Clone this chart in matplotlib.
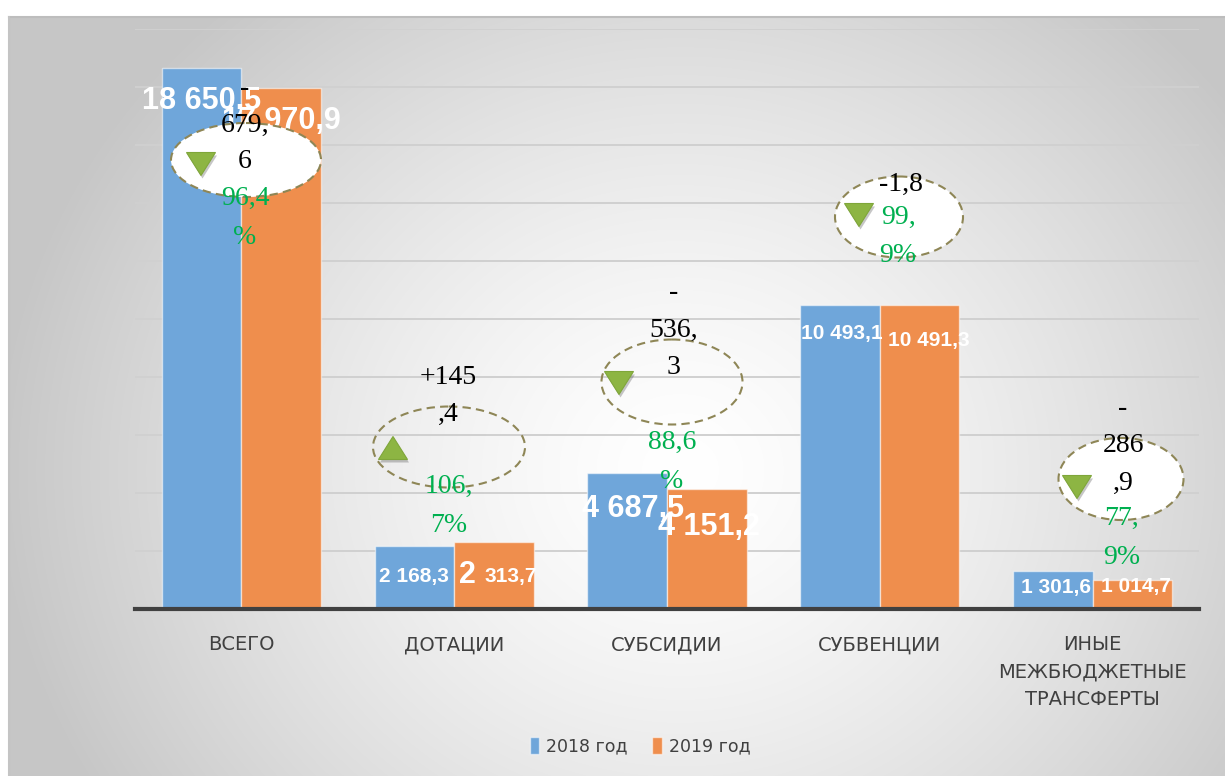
import matplotlib
matplotlib.use("Agg")
import matplotlib.pyplot as plt
import matplotlib.transforms as mtransforms
from matplotlib.patches import Ellipse, Polygon
import numpy as np

# budget transfers, thousand rubles
categories = ["ВСЕГО", "ДОТАЦИИ", "СУБСИДИИ", "СУБВЕНЦИИ",
              "ИНЫЕ\nМЕЖБЮДЖЕТНЫЕ\nТРАНСФЕРТЫ"]
values_2018 = [18650.5, 2168.3, 4687.5, 10493.1, 1301.6]
values_2019 = [17970.9, 2313.7, 4151.2, 10491.3, 1014.7]
growth_pct = [96.4, 106.7, 88.6, 99.9, 77.9]

W, H = 1225, 776
BLUE = "#6FA6DA"
ORANGE = "#EF8E4D"
GREEN = "#00B050"


def fmt(v, sign=False):
    s = f"{v:+,.1f}" if sign else f"{v:,.1f}"
    return s.replace(",", " ").replace(".", ",")


def wrap(s, cuts):
    parts, prev = [], 0
    for c in cuts + [len(s)]:
        parts.append(s[prev:c])
        prev = c
    return parts


fig = plt.figure(figsize=(W / 100, H / 100), dpi=100)
fig.patch.set_facecolor("white")

# soft radial background of the chart frame
bg = fig.add_axes([0, 0, 1, 1], zorder=-10)
yy, xx = np.mgrid[0:H, 0:W]
r = np.hypot(xx - 680, (yy - 470) * 1.1)
shade = 1 - 0.22 * np.clip(r / 680, 0, 1) ** 1.4
img = np.dstack([shade] * 3)
img[:16, :] = 1
img[:, :8] = 1
bg.imshow(img, aspect="auto", interpolation="bilinear")
bg.plot([8, W], [16, 16], color="#BDBDBD", lw=1.5)
bg.plot([8, 8], [16, H], color="#C4C4C4", lw=1.5)
bg.set_xlim(-0.5, W - 0.5)
bg.set_ylim(H - 0.5, -0.5)
bg.axis("off")

ax = fig.add_axes([135 / W, 1 - 609 / H, 1064 / W, 580 / H])
ax.set_facecolor("none")
x = np.arange(len(categories))
w = 0.374
b1 = ax.bar(x - w / 2, values_2018, w, color=BLUE, edgecolor=(1, 1, 1, 0.55),
            lw=1, label="2018 год", zorder=2)
b2 = ax.bar(x + w / 2, values_2019, w, color=ORANGE, edgecolor=(1, 1, 1, 0.55),
            lw=1, label="2019 год", zorder=2)

ax.set_xlim(-0.5, 4.5)
ax.set_ylim(0, 20000)
ax.set_yticks(np.arange(0, 20001, 2000))
ax.yaxis.grid(True, color="#D0D0D0", lw=1.4)
ax.set_axisbelow(True)
ax.tick_params(axis="y", length=0, labelleft=False)
for s in ("top", "right", "left"):
    ax.spines[s].set_visible(False)
ax.spines["bottom"].set_color("#404040")
ax.spines["bottom"].set_linewidth(3)
ax.set_xticks(x, categories, fontsize=14, color="#404040", linespacing=1.55)
ax.tick_params(axis="x", length=0, pad=19)

# value labels inside the bars
offs_2018 = [(0, -33), (0, -30), (6, -36), (2, -29), (3, -16)]
offs_2019 = [(0, -33), (2, -33), (2, -38), (9, -36), (4, -7)]
size_2018 = [22, 15, 22, 15, 15]
size_2019 = [22, 15, 22, 15, 15]
for shift, vals, offs, sizes in ((-w / 2, values_2018, offs_2018, size_2018),
                                 (w / 2, values_2019, offs_2019, size_2019)):
    for i, v in enumerate(vals):
        txt = fmt(v)
        kw = dict(xy=(x[i] + shift, v), textcoords="offset pixels",
                  ha="center", va="center", color="white",
                  fontweight="bold", family="Liberation Sans", zorder=3)
        if vals is values_2019 and i == 1:
            # leading digit rendered larger than the rest
            head, rest = txt.split(" ", 1)
            ax.annotate(head, xytext=(offs[i][0] - 29, offs[i][1]),
                        fontsize=22, **kw)
            ax.annotate(rest, xytext=(offs[i][0] + 15, offs[i][1] - 2),
                        fontsize=15, **kw)
        else:
            ax.annotate(txt, xytext=offs[i], fontsize=sizes[i], **kw)

# change callouts, laid out in pixel coordinates from the top-left corner
pix = mtransforms.Affine2D().scale(1, -1).translate(0, H)
ellipses = [(246, 160, 150, 74, True), (449, 447, 152, 81, False),
            (672, 382, 141, 85, False), (899, 217, 128, 81, True),
            (1121, 479, 125, 82, True)]
tri_xy = [(201, 164), (393, 448), (619, 383), (859, 215), (1077, 487)]
diff_xy = [(245, 88), (448, 377), (674, 293), (901, 184), (1123, 409)]
pct_xy = [(245, 198), (449, 486), (672, 442), (898, 217), (1122, 518)]
diff_cuts = [[1, 5], [4], [1, 5], [], [1, 4]]
pct_cuts = [[4], [4], [4], [3], [3]]

for i in range(len(categories)):
    cx, cy, ew, eh, filled = ellipses[i]
    fig.add_artist(Ellipse((cx, cy), ew, eh, transform=pix,
                           facecolor="white" if filled else "none",
                           edgecolor="#8E8656", lw=1.5,
                           linestyle=(0, (4, 2.5)), zorder=2))

    diff = values_2019[i] - values_2018[i]
    tx, ty = tri_xy[i]
    tw, th = 29, 23
    if diff > 0:
        pts = [(tx - tw / 2, ty + th / 2), (tx + tw / 2, ty + th / 2), (tx, ty - th / 2)]
    else:
        pts = [(tx - tw / 2, ty - th / 2), (tx + tw / 2, ty - th / 2), (tx, ty + th / 2)]
    shadow = [(px_ + 1.5, py_ + 3) for px_, py_ in pts]
    fig.add_artist(Polygon(shadow, closed=True, transform=pix,
                           facecolor="#444444", alpha=0.3, lw=0, zorder=3))
    fig.add_artist(Polygon(pts, closed=True, transform=pix,
                           facecolor="#8DB543", edgecolor="#7FA63A",
                           lw=0.8, zorder=3))

    dx0, dy0 = diff_xy[i]
    for k, line in enumerate(wrap(fmt(diff, sign=diff > 0), diff_cuts[i])):
        fig.text(dx0, dy0 + 37 * k, line, transform=pix, ha="center",
                 va="center", fontsize=20, family="Liberation Serif",
                 color="black", zorder=4)

    gx0, gy0 = pct_xy[i]
    pct = f"{growth_pct[i]:.1f}".replace(".", ",") + "%"
    for k, line in enumerate(wrap(pct, pct_cuts[i])):
        fig.text(gx0, gy0 + 39 * k, line, transform=pix, ha="center",
                 va="center", fontsize=20, family="Liberation Serif",
                 color=GREEN, zorder=4)

fig.legend(handles=[b1, b2], loc="center",
           bbox_to_anchor=(640 / W, 1 - 746 / H), ncol=2, frameon=False,
           fontsize=12.5, handlelength=0.55, handleheight=1.1,
           handletextpad=0.4, columnspacing=1.4, labelcolor="#404040")

fig.savefig("out.png", dpi=100)
